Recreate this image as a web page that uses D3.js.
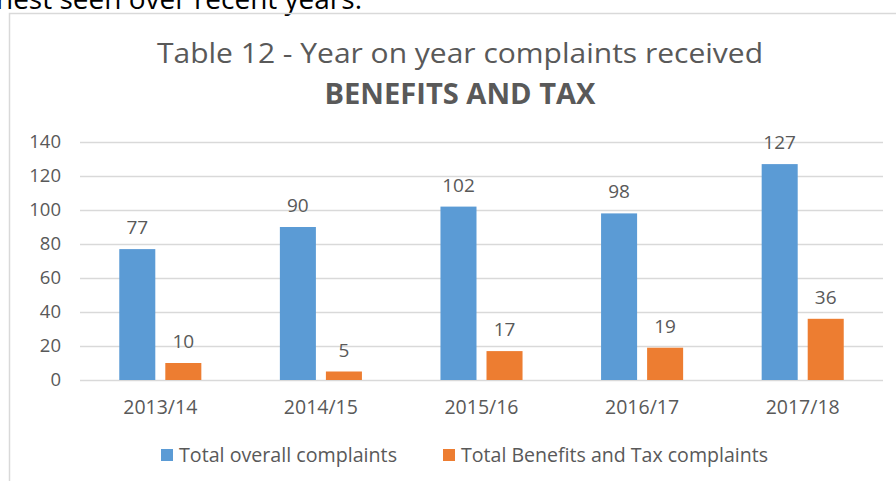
<!DOCTYPE html>
<html>
<head>
<meta charset="utf-8">
<script src="https://cdn.jsdelivr.net/npm/d3@7"></script>
<style>
  body { margin: 0; background: #fff; }
  svg { display: block; font-family: 'Open Sans', sans-serif; }
</style>
</head>
<body>
<div id="chart"></div>
<script>
// Values
const years = ['2013/14', '2014/15', '2015/16', '2016/17', '2017/18'];
const seriesNames = ['Total overall complaints', 'Total Benefits and Tax complaints'];
const overallComplaints = [77, 90, 102, 98, 127];
const benefitsTaxComplaints = [10, 5, 17, 19, 36];
const yTicks = [0, 20, 40, 60, 80, 100, 120, 140];

const COLOURS = {
  blue: '#5b9bd5',
  orange: '#ed7d31',
  grid: '#d9d9d9',
  text: '#595959'
};

const width = 896;
const height = 481;
const margin = { top: 142, right: 13, bottom: 101, left: 80 };
const plotW = width - margin.left - margin.right;
const plotH = height - margin.top - margin.bottom;

const rows = years.map((year, i) => ({
  year,
  values: [overallComplaints[i], benefitsTaxComplaints[i]]
}));

const svg = d3.select('#chart')
  .append('svg')
  .attr('width', width)
  .attr('height', height);

// text from the page above the chart, cut off at the left and top as in the screenshot
const pageText = svg.append('text')
  .attr('x', 362)
  .attr('y', 9)
  .attr('text-anchor', 'end')
  .attr('font-size', 27)
  .attr('fill', '#000')
  .text('highest seen over recent years.');
{
  const node = pageText.node();
  const full = node.getComputedTextLength();
  const prefix = node.getSubStringLength(0, 3);
  pageText.attr('textLength', full * 366 / (full - prefix)).attr('lengthAdjust', 'spacingAndGlyphs');
}

// chart area border (runs off the right and bottom of the picture)
svg.append('rect')
  .attr('x', 9.5)
  .attr('y', 13.5)
  .attr('width', width + 20)
  .attr('height', height + 20)
  .attr('fill', 'none')
  .attr('stroke', COLOURS.grid)
  .attr('stroke-width', 1.5);

svg.append('text')
  .attr('x', 460)
  .attr('y', 63)
  .attr('text-anchor', 'middle')
  .attr('font-size', 27)
  .attr('fill', COLOURS.text)
  .attr('textLength', 606)
  .attr('lengthAdjust', 'spacingAndGlyphs')
  .text('Table 12 - Year on year complaints received');

svg.append('text')
  .attr('x', 460)
  .attr('y', 104)
  .attr('text-anchor', 'middle')
  .attr('font-size', 28)
  .attr('font-weight', 'bold')
  .attr('fill', COLOURS.text)
  .attr('textLength', 271)
  .attr('lengthAdjust', 'spacingAndGlyphs')
  .text('BENEFITS AND TAX');

const g = svg.append('g')
  .attr('transform', `translate(${margin.left},${margin.top})`);

const y = d3.scaleLinear().domain([0, 140]).range([plotH, 0]);

const x0 = d3.scaleBand()
  .domain(years)
  .range([0, plotW])
  .paddingInner(0.489)
  .paddingOuter(0.2445);

const x1 = d3.scaleBand()
  .domain([0, 1])
  .range([0, x0.bandwidth()])
  .paddingInner(0.2174);

const colour = d3.scaleOrdinal().domain([0, 1]).range([COLOURS.blue, COLOURS.orange]);

// gridlines
g.append('g')
  .call(d3.axisLeft(y).tickValues(yTicks).tickSize(-plotW).tickFormat(''))
  .call((a) => a.select('.domain').remove())
  .selectAll('line')
  .attr('stroke', COLOURS.grid)
  .attr('stroke-width', 1.3);

// y axis labels
g.append('g')
  .attr('transform', 'translate(-19,0)')
  .call(d3.axisLeft(y).tickValues(yTicks).tickSize(0).tickPadding(0))
  .call((a) => a.select('.domain').remove())
  .selectAll('text')
  .attr('font-family', "'Open Sans', sans-serif")
  .attr('font-size', 18.5)
  .attr('fill', COLOURS.text);

// x axis labels
g.append('g')
  .attr('transform', `translate(0,${plotH})`)
  .call(d3.axisBottom(x0).tickSize(0).tickPadding(20))
  .call((a) => a.select('.domain').remove())
  .selectAll('text')
  .attr('font-family', "'Open Sans', sans-serif")
  .attr('font-size', 19.5)
  .attr('fill', COLOURS.text);

const groups = g.selectAll('g.year')
  .data(rows)
  .join('g')
  .attr('class', 'year')
  .attr('transform', (d) => `translate(${x0(d.year)},0)`);

groups.selectAll('rect')
  .data((d) => d.values.map((v, i) => ({ i, v })))
  .join('rect')
  .attr('x', (d) => x1(d.i))
  .attr('y', (d) => y(d.v))
  .attr('width', x1.bandwidth())
  .attr('height', (d) => plotH - y(d.v))
  .attr('fill', (d) => colour(d.i));

groups.selectAll('text.label')
  .data((d) => d.values.map((v, i) => ({ i, v })))
  .join('text')
  .attr('class', 'label')
  .attr('x', (d) => x1(d.i) + x1.bandwidth() / 2)
  .attr('y', (d) => y(d.v) - 15)
  .attr('text-anchor', 'middle')
  .attr('font-size', 19)
  .attr('fill', COLOURS.text)
  .text((d) => d.v);

// legend
const legendX = [161, 443];
const legendTextW = [218, 307];
const legend = svg.selectAll('g.legend')
  .data(seriesNames)
  .join('g')
  .attr('class', 'legend')
  .attr('transform', (d, i) => `translate(${legendX[i]},455)`);

legend.append('rect')
  .attr('x', 0)
  .attr('y', -6)
  .attr('width', 12)
  .attr('height', 12)
  .attr('fill', (d, i) => colour(i));

legend.append('text')
  .attr('x', 18)
  .attr('y', 7)
  .attr('font-size', 19.5)
  .attr('fill', COLOURS.text)
  .attr('textLength', (d, i) => legendTextW[i])
  .attr('lengthAdjust', 'spacingAndGlyphs')
  .text((d) => d);
</script>
</body>
</html>
